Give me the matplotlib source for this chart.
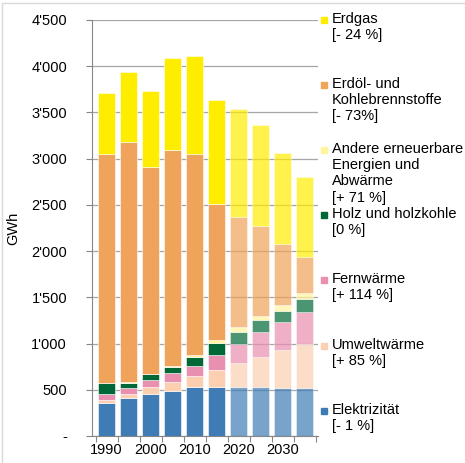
import matplotlib.pyplot as plt
from matplotlib.patches import Rectangle
from matplotlib.lines import Line2D
from matplotlib.ticker import FuncFormatter

plt.rcParams['font.family'] = ['Liberation Sans', 'DejaVu Sans']

years = [1990, 1995, 2000, 2005, 2010, 2015, 2020, 2025, 2030, 2035]
elektrizitaet = [360, 408, 458, 490, 534, 534, 534, 527, 523, 523]
umweltwaerme = [30, 46, 69, 98, 115, 180, 253, 331, 408, 472]
fernwaerme = [60, 62, 79, 90, 108, 162, 208, 264, 299, 350]
holz = [120, 61, 60, 72, 101, 127, 134, 133, 123, 134]
andere = [5, 5, 8, 8, 18, 36, 47, 47, 64, 65]
erdoel = [2475, 2599, 2240, 2337, 2175, 1471, 1197, 974, 661, 396]
erdgas = [655, 757, 823, 995, 1061, 1122, 1165, 1093, 984, 866]

series = [elektrizitaet, umweltwaerme, fernwaerme, holz, andere, erdoel, erdgas]
colors = ['#3F7CB5', '#FBCFB0', '#E98FB0', '#006837', '#FFF59D', '#F0A35A', '#FFED00']
labels = ['Elektrizität\n[- 1 %]', 'Umweltwärme\n[+ 85 %]', 'Fernwärme\n[+ 114 %]',
          'Holz und holzkohle\n[0 %]', 'Andere erneuerbare\nEnergien und\nAbwärme\n[+ 71 %]',
          'Erdöl- und\nKohlebrennstoffe\n[- 73%]', 'Erdgas\n[- 24 %]']
first_projection = 6

fig = plt.figure(figsize=(4.65, 4.63), dpi=100)
ax = fig.add_axes([92/465, 1-436/463, (318-92)/465, (436-20)/463])

x = list(range(len(years)))
bottom = [0]*len(years)
for vals, c in zip(series, colors):
    for i in x:
        a = 1.0 if i < first_projection else 0.7
        ax.bar(i, vals[i], 0.77, bottom=bottom[i], color=c, alpha=a,
               edgecolor='white', linewidth=0.4, zorder=3)
    bottom = [b+v for b, v in zip(bottom, vals)]

ax.set_xlim(-0.66, 9.61)
ax.set_ylim(0, 4500)
ax.set_yticks(range(0, 4501, 500))
ax.yaxis.set_major_formatter(FuncFormatter(
    lambda v, p: '-' if v == 0 else f'{int(v):,}'.replace(',', "'")))
ax.set_xticks([i-0.5 for i in x] + [9.5])
ax.set_xticklabels([])
ax.set_xticks(x[::2], minor=True)
ax.set_xticklabels([str(y) for y in years[::2]], minor=True)
ax.tick_params(axis='x', which='minor', length=0, labelsize=10.5, pad=5)
ax.tick_params(axis='x', which='major', length=4, color='#868686')
ax.tick_params(axis='y', length=4, color='#868686', labelsize=10.5, pad=14)
ax.grid(axis='y', color='#A6A6A6', linewidth=0.9, zorder=0)
for s in ['top', 'right']:
    ax.spines[s].set_visible(False)
ax.spines['left'].set_color('#868686')
ax.spines['bottom'].set_color('#868686')
ax.set_ylabel('GWh', fontsize=10.5, labelpad=8)

# legend on the right, drawn by hand
legend_y = [411, 346, 280, 215, 150, 85, 20]
for lab, c, ly in zip(labels, colors, legend_y):
    fig.patches.append(Rectangle((321/465, 1-(ly+3)/463), 6/465, 6/463,
                                 transform=fig.transFigure, color=c, zorder=5))
    fig.text(332/465, 1-(ly-8)/463, lab, fontsize=10.5, va='top', ha='left',
             linespacing=1.2)

# frame only on top and left, like the cropped original
fig.lines.append(Line2D([2/465, 2/465, 1], [0, 1-2.5/463, 1-2.5/463],
                        transform=fig.transFigure, color='#D9D9D9', linewidth=1))
fig.savefig('out.png', dpi=100)
